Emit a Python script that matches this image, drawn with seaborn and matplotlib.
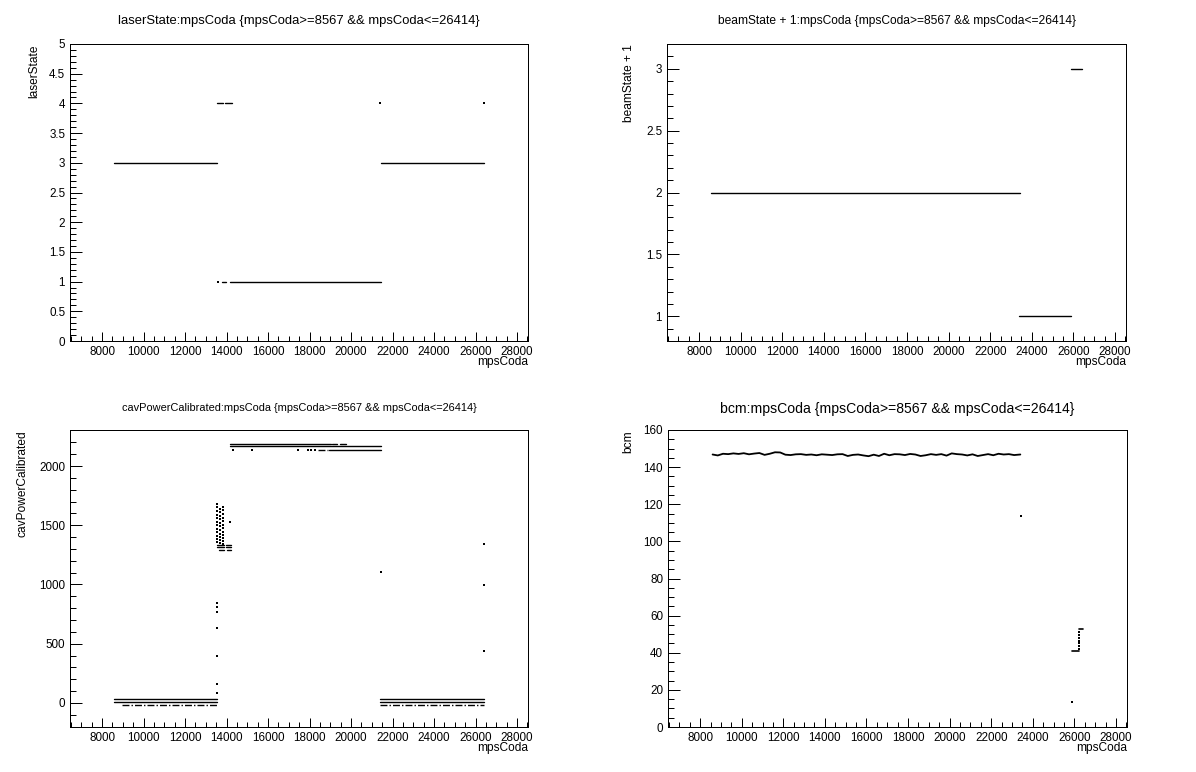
import numpy as np
import pandas as pd
import matplotlib
matplotlib.use("Agg")
import matplotlib.pyplot as plt
import seaborn as sns
from matplotlib.ticker import MultipleLocator, FuncFormatter

# ---------------- data ----------------
titles = [
    "laserState:mpsCoda {mpsCoda>=8567 && mpsCoda<=26414}",
    "beamState + 1:mpsCoda {mpsCoda>=8567 && mpsCoda<=26414}",
    "cavPowerCalibrated:mpsCoda {mpsCoda>=8567 && mpsCoda<=26414}",
    "bcm:mpsCoda {mpsCoda>=8567 && mpsCoda<=26414}",
]
ylabels = ["laserState", "beamState + 1", "cavPowerCalibrated", "bcm"]
xlabel = "mpsCoda"

# laserState: horizontal runs (x start, x end, value) and isolated points
laser_runs = [(8567, 13557, 3), (21450, 26414, 3),
              (13550, 13850, 4), (13920, 14240, 4),
              (13760, 13980, 1), (14183, 21450, 1)]
laser_pts_x = [13580, 21420, 26414]
laser_pts_y = [1, 4, 4]

# beamState + 1 runs
beam_runs = [(8567, 23420, 2), (23370, 25900, 1), (25870, 26414, 3)]

# cavPowerCalibrated
cav_runs = [(8567, 13557, 30), (21420, 26414, 30),
            (8567, 13557, 8), (21420, 26414, 8),
            (14167, 19020, 2185), (19083, 19310, 2185), (19469, 19758, 2185),
            (14167, 21460, 2165), (18953, 21460, 2135),
            (13555, 13900, 1336), (13980, 14210, 1336),
            (13555, 13900, 1316), (13980, 14210, 1316),
            (13620, 13900, 1293), (14000, 14200, 1293)]
cav_dashed_runs = [(8970, 13557, -17), (21420, 26414, -17), (18409, 18891, 2135)]
cav_pts_x = [13555] * 12 + [13690] * 11 + [13840] * 12 + \
            [13555] * 7 + [14180, 21440, 26414, 26414, 26414,
                           14326, 15213, 17460, 17942, 18071, 18264]
cav_pts_y = [1680, 1650, 1620, 1590, 1560, 1530, 1500, 1470, 1440, 1410, 1380, 1355,
             1640, 1610, 1580, 1550, 1520, 1490, 1460, 1430, 1400, 1375, 1350,
             1655, 1625, 1595, 1565, 1535, 1505, 1475, 1445, 1415, 1390, 1365, 1345,
             844, 813, 768, 633, 394, 160, 84,
             1527, 1105, 1342, 996, 439,
             2135, 2135, 2135, 2135, 2135, 2135]

# bcm
bcm_x = [8600, 8850, 9100, 9350, 9600, 9850, 10100, 10350, 10600, 10850,
         11100, 11350, 11600, 11850, 12100, 12350, 12600, 12850, 13100, 13350,
         13600, 13850, 14100, 14350, 14600, 14850, 15100, 15350, 15600, 15850,
         16100, 16350, 16600, 16850, 17100, 17350, 17600, 17850, 18100, 18350,
         18600, 18850, 19100, 19350, 19600, 19850, 20100, 20350, 20600, 20850,
         21100, 21350, 21600, 21850, 22100, 22350, 22600, 22850, 23100, 23400]
bcm_y = [146.8, 146.3, 147.2, 147.0, 147.4, 147.1, 147.5, 146.9, 147.3, 147.6,
         146.6, 147.2, 148.0, 147.9, 146.7, 146.5, 146.9, 147.0, 146.6, 146.8,
         146.4, 146.9, 146.7, 146.5, 146.9, 147.0, 146.0, 146.6, 146.8, 146.3,
         145.9, 146.7, 146.0, 147.2, 146.4, 147.0, 146.9, 146.5, 147.1, 146.8,
         146.0, 146.4, 147.0, 146.6, 147.0, 146.2, 147.4, 147.0, 146.8, 146.3,
         146.9, 146.0, 146.5, 147.0, 146.4, 147.2, 146.8, 147.0, 146.5, 146.8]
bcm_runs = [(25880, 26210, 40.8), (26240, 26414, 53.0)]
bcm_pts_x = [23420, 25870, 26240, 26240, 26240, 26240, 26240, 26240, 26240]
bcm_pts_y = [113.7, 13.5, 42.0, 43.5, 45.0, 46.5, 48.0, 49.5, 51.0]

# ---------------- styling ----------------
sns.set_theme(style="white")
plt.rcParams["font.family"] = ["Liberation Sans", "DejaVu Sans"]
plt.rcParams["axes.edgecolor"] = "black"
plt.rcParams["axes.linewidth"] = 0.72

W, H = 1196, 772
fig = plt.figure(figsize=(W / 100, H / 100), dpi=100, facecolor="white")


def add_ax(l, t, r, b):
    return fig.add_axes([l / W, 1 - b / H, (r - l) / W, (b - t) / H])


def runs_df(runs):
    rows = []
    for i, (x0, x1, y) in enumerate(runs):
        rows.append((x0, y, i))
        rows.append((x1, y, i))
    return pd.DataFrame(rows, columns=["x", "y", "seg"])


def draw_runs(ax, runs, **kw):
    df = runs_df(runs)
    sns.lineplot(data=df, x="x", y="y", units="seg", estimator=None,
                 color="black", legend=False, ax=ax, sort=False, **kw)


def draw_pts(ax, xs, ys):
    sns.scatterplot(x=xs, y=ys, marker="s", s=0.9, color="black",
                    linewidth=0, ax=ax, legend=False)


fmt = FuncFormatter(lambda v, p: f"{v:g}")


def style(ax, ylim, ymaj, ymin, ylab, ylab_off):
    ax.set_xlim(6455, 28530)
    ax.set_ylim(*ylim)
    ax.xaxis.set_major_locator(MultipleLocator(2000))
    ax.xaxis.set_minor_locator(MultipleLocator(500))
    ax.yaxis.set_major_locator(MultipleLocator(ymaj))
    ax.yaxis.set_minor_locator(MultipleLocator(ymin))
    ax.yaxis.set_major_formatter(fmt)
    ax.tick_params(which="both", direction="in", top=False, right=False,
                   bottom=True, left=True, width=0.72, color="black",
                   labelcolor="black", labelsize=8.4)
    ax.tick_params(axis="x", which="major", length=6.5, pad=3.5)
    ax.tick_params(axis="x", which="minor", length=3.6)
    ax.tick_params(axis="y", which="major", length=8.6, pad=3.5)
    ax.tick_params(axis="y", which="minor", length=4.3)
    for s in ax.spines.values():
        s.set_visible(True)
        s.set_color("black")
        s.set_linewidth(0.72)
    ax.set_xlabel(xlabel, loc="right", fontsize=8.6, color="black")
    ax.xaxis.set_label_coords(1.0, -15 / 297)
    ax.set_ylabel(ylab, loc="top", fontsize=8.6, color="black")
    ax.yaxis.set_label_coords(-ylab_off, 1.0)
    ax.set_facecolor("white")


ax1 = add_ax(70, 44, 528, 341)
ax2 = add_ax(667, 44, 1126, 341)
ax3 = add_ax(70, 430, 528, 727)
ax4 = add_ax(668, 430, 1127, 727)

draw_runs(ax1, laser_runs, lw=1.0)
draw_pts(ax1, laser_pts_x, laser_pts_y)
style(ax1, (0, 5), 0.5, 0.1, ylabels[0], 30 / 458)

draw_runs(ax2, beam_runs, lw=1.0)
style(ax2, (0.8, 3.2), 0.5, 0.1, ylabels[1], 32 / 459)

draw_runs(ax3, cav_runs, lw=1.0)
draw_runs(ax3, cav_dashed_runs, lw=1.0, dashes=(5, 1.5, 1, 1.5))
draw_pts(ax3, cav_pts_x, cav_pts_y)
style(ax3, (-203, 2304), 500, 100, ylabels[2], 41 / 458)

sns.lineplot(x=bcm_x, y=bcm_y, color="black", lw=1.3, ax=ax4,
             estimator=None, legend=False)
draw_runs(ax4, bcm_runs, lw=1.2)
draw_pts(ax4, bcm_pts_x, bcm_pts_y)
style(ax4, (0, 160), 20, 5, ylabels[3], 34 / 459)

# titles, scaled to the width they occupy in the reference
title_pos = [(299, 21), (897, 21), (299, 408), (897, 409)]
title_w = [361, 357, 354, 353]
renderer = fig.canvas.get_renderer()
for txt, (px, py), tw in zip(titles, title_pos, title_w):
    t = fig.text(px / W, 1 - py / H, txt, ha="center", va="center",
                 fontsize=10, color="black")
    w = t.get_window_extent(renderer).width
    t.set_fontsize(10 * tw / w)

fig.savefig("out.png", dpi=100, facecolor="white")
